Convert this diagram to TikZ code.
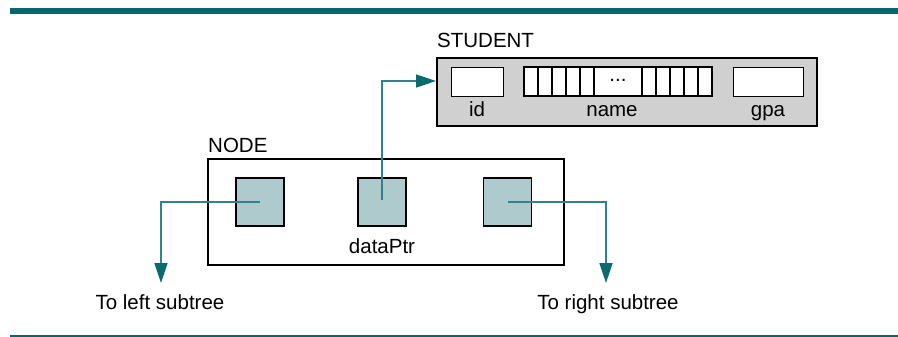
\documentclass[tikz,border=0pt]{standalone}
\usepackage{fontspec}
\setmainfont{Liberation Sans}
\usetikzlibrary{arrows.meta}
\definecolor{barteal}{HTML}{04686C}
\definecolor{lineteal}{HTML}{2E8489}
\definecolor{tipteal}{HTML}{0A6A6E}
\definecolor{sqfill}{HTML}{AECACD}
\definecolor{stufill}{HTML}{D0D0D0}
\tikzset{
  lbl/.style={font=\fontsize{20.5}{24}\selectfont, inner sep=0pt},
  sq/.style={draw=black, line width=1.2pt, fill=sqfill, minimum width=48pt, minimum height=48pt, inner sep=0pt},
  frame/.style={draw=black, line width=2.7pt},
  cell/.style={draw=black, line width=1.1pt, fill=white},
  conn/.style={draw=lineteal, line width=1.7pt, -{Triangle[length=20pt,width=13pt,color=tipteal]}},
}
\begin{document}
\begin{tikzpicture}[x=1pt,y=-1pt]
\useasboundingbox (0,0) rectangle (898,337);
% top bar and bottom rule
\fill[barteal] (10,8) rectangle (898,14);
\fill[barteal] (10,335) rectangle (898,337);

% STUDENT structure
\node[lbl, anchor=base west] (stulbl) at (437,48) {STUDENT};
\draw[frame, fill=stufill] (437,58) rectangle (817,126);
\node[cell, minimum width=52pt, minimum height=29pt, inner sep=0pt, anchor=north west] (id) at (451,67) {};
\draw[cell] (524,67) rectangle (712,96);
\foreach \xx in {538,552,566,580,594,642,656,670,684,698}{
  \draw[black, line width=1.1pt] (\xx,67) -- (\xx,96);
}
\node[lbl, anchor=center] (dots) at (618,80) {...};
\node[cell, minimum width=70pt, minimum height=29pt, inner sep=0pt, anchor=north west] (gpa) at (733,67) {};
\node[lbl, anchor=base] (idl) at (477,117) {id};
\node[lbl, anchor=base] (namel) at (612,117) {name};
\node[lbl, anchor=base] (gpal) at (768,117) {gpa};
\coordinate (stuin) at (436,81);

% NODE structure
\node[lbl, anchor=base west] (nodelbl) at (208,152) {NODE};
\draw[frame, fill=white] (208,159) rectangle (564,265);
\node[sq] (left) at (260,202) {};
\node[sq] (mid) at (382,202) {};
\node[sq] (right) at (507.5,202) {};
\node[lbl, anchor=base] (dp) at (382,253) {dataPtr};

% labels
\node[lbl, anchor=base] (ll) at (160,309) {To left subtree};
\node[lbl, anchor=base] (rl) at (608,309) {To right subtree};
\coordinate (lefttip) at (161,283);
\coordinate (righttip) at (606,283);

% connectors
\draw[conn] (left.center) -- (161,202) -- (lefttip);
\draw[conn] (right.center) -- (606,202) -- (righttip);
\draw[conn] (382,200) -- (382,81) -- (stuin);
\end{tikzpicture}
\end{document}
